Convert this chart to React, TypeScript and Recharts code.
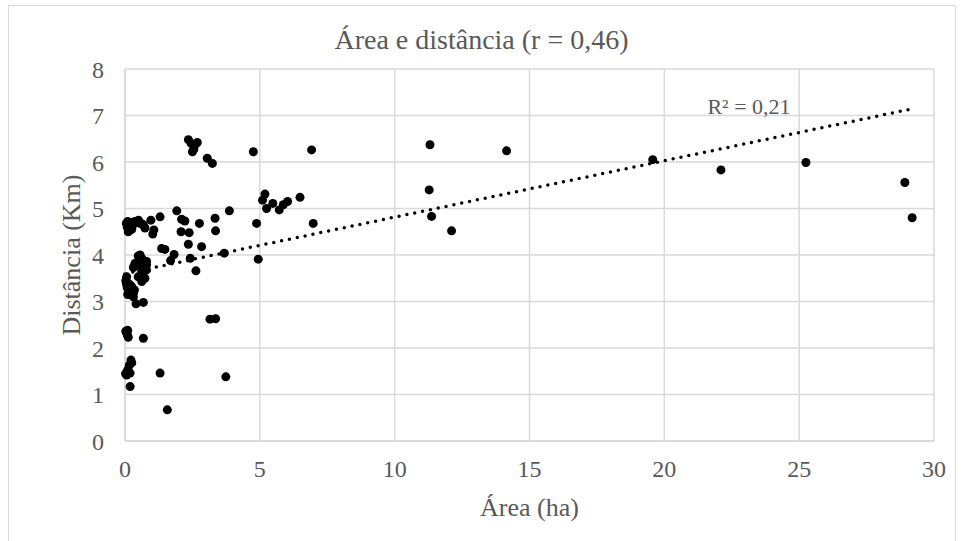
import React from "react";
import {
  ScatterChart,
  Scatter,
  XAxis,
  YAxis,
  CartesianGrid,
  ReferenceLine,
} from "recharts";

// área (ha) of each site
const areaHa = [
  29.19, 28.92, 25.25, 22.1, 19.57, 14.15, 12.11, 11.37, 11.28, 11.31,
  6.98, 6.92, 6.49, 6.03, 5.87, 5.72, 5.48, 5.25, 5.19, 5.1, 4.94, 4.88, 4.76,
  3.87, 3.74, 3.68, 3.36, 3.34, 3.36, 3.15, 3.24, 3.05,
  2.84, 2.76, 2.63, 2.42, 2.35, 2.38, 2.08, 2.22, 2.1, 1.92, 1.82, 1.69, 1.57,
  1.48, 1.36, 1.3, 1.3, 1.07, 1.03, 0.96,
  2.35, 2.45, 2.6, 2.68, 2.55, 2.5,
  0.05, 0.1, 0.15, 0.2, 0.25, 0.3, 0.37, 0.43, 0.5, 0.56, 0.62, 0.68, 0.74,
  0.19, 0.08, 0.12,
  0.49, 0.56, 0.62, 0.68, 0.8,
  0.31, 0.37, 0.56, 0.8, 0.62, 0.8, 0.66, 0.68, 0.49, 0.74, 0.62, 0.56,
  0.03, 0.06, 0.05, 0.12, 0.08, 0.19, 0.25, 0.25, 0.31, 0.31, 0.15, 0.1, 0.35,
  0.2,
  0.41, 0.68,
  0.03, 0.06, 0.09, 0.12, 0.1, 0.68,
  0.22, 0.25, 0.16, 0.1, 0.06, 0.19, 0.02,
  0.19,
];

// distância (km) of each site
const distanciaKm = [
  4.8, 5.56, 5.99, 5.83, 6.05, 6.24, 4.52, 4.83, 5.4, 6.37,
  4.68, 6.26, 5.24, 5.15, 5.08, 4.97, 5.11, 5.0, 5.31, 5.18, 3.91, 4.68, 6.22,
  4.95, 1.38, 4.04, 4.52, 4.79, 2.63, 2.62, 5.97, 6.08,
  4.18, 4.68, 3.66, 3.93, 4.23, 4.48, 4.5, 4.73, 4.77, 4.95, 4.01, 3.88, 0.67,
  4.12, 4.14, 4.82, 1.46, 4.54, 4.45, 4.75,
  6.48, 6.4, 6.37, 6.42, 6.27, 6.22,
  4.68, 4.72, 4.62, 4.7, 4.55, 4.65, 4.72, 4.72, 4.75, 4.68, 4.67, 4.65, 4.58,
  4.54, 4.6, 4.5,
  3.98, 4.0, 3.92, 3.89, 3.86,
  3.73, 3.82, 3.75, 3.79, 3.64, 3.68, 3.59, 3.5, 3.53, 3.5, 3.43, 3.53,
  3.45, 3.53, 3.38, 3.39, 3.3, 3.25, 3.32, 3.14, 3.18, 3.1, 3.2, 3.15, 3.25,
  3.35,
  2.95, 2.98,
  2.36, 2.32, 2.28, 2.23, 2.38, 2.21,
  1.74, 1.68, 1.63, 1.53, 1.42, 1.46, 1.45,
  1.17,
];

const xTicks = [0, 5, 10, 15, 20, 25, 30];
const yTicks = [0, 1, 2, 3, 4, 5, 6, 7, 8];

// linear trendline y = a + b·x
const trendIntercept = 3.6;
const trendSlope = 0.1214;
const trendRange = [0, 29.2];

const points = areaHa.map((x, i) => ({ x, y: distanciaKm[i] }));
const trendSegment = trendRange.map((x) => ({
  x,
  y: trendIntercept + trendSlope * x,
}));

const gray = "#595959";
const gridColor = "#d9d9d9";
const font = "'Liberation Serif', 'Times New Roman', serif";

const Dot = (props: any) => (
  <circle cx={props.cx} cy={props.cy} r={4.5} fill="#000" />
);

export default function App() {
  return (
    <div
      style={{
        position: "fixed",
        left: 0,
        top: 0,
        width: 963,
        height: 541,
        overflow: "hidden",
        background: "#fff",
        fontFamily: font,
      }}
    >
      <div
        style={{
          position: "absolute",
          left: 8,
          top: 5,
          width: 946,
          height: 600,
          border: `1.5px solid ${gridColor}`,
        }}
      />
      <ScatterChart
        width={963}
        height={541}
        margin={{ top: 69, right: 29, bottom: 40, left: 65 }}
      >
        <CartesianGrid stroke={gridColor} strokeWidth={1.5} />
        <XAxis
          type="number"
          dataKey="x"
          domain={[0, 30]}
          ticks={xTicks}
          height={60}
          tickLine={false}
          tickSize={0}
          tickMargin={19}
          axisLine={{ stroke: gridColor, strokeWidth: 1.5 }}
          tick={{ fill: gray, fontSize: 24, fontFamily: font }}
        />
        <YAxis
          type="number"
          dataKey="y"
          domain={[0, 8]}
          ticks={yTicks}
          width={60}
          tickLine={false}
          tickSize={0}
          tickMargin={21}
          axisLine={{ stroke: gridColor, strokeWidth: 1.5 }}
          tick={{ fill: gray, fontSize: 24, fontFamily: font }}
        />
        <Scatter data={points} fill="#000" shape={Dot} isAnimationActive={false} />
        <ReferenceLine
          segment={trendSegment}
          stroke="#000"
          strokeWidth={3.5}
          strokeDasharray="0 8"
          strokeLinecap="round"
        />
      </ScatterChart>
      <div
        style={{
          position: "absolute",
          left: 0,
          width: 963,
          top: 24,
          textAlign: "center",
          fontSize: 28,
          lineHeight: "32px",
          color: gray,
        }}
      >
        Área e distância (r = 0,46)
      </div>
      <div
        style={{
          position: "absolute",
          left: 125,
          width: 809,
          top: 493,
          textAlign: "center",
          fontSize: 26,
          lineHeight: "30px",
          color: gray,
        }}
      >
        Área (ha)
      </div>
      <div
        style={{
          position: "absolute",
          left: 72 - 150,
          top: 255 - 15,
          width: 300,
          textAlign: "center",
          fontSize: 26,
          lineHeight: "30px",
          color: gray,
          transform: "rotate(-90deg)",
        }}
      >
        Distância (Km)
      </div>
      <div
        style={{
          position: "absolute",
          left: 749 - 60,
          width: 120,
          top: 107 - 13,
          textAlign: "center",
          fontSize: 22,
          lineHeight: "26px",
          color: gray,
        }}
      >
        R² = 0,21
      </div>
    </div>
  );
}
